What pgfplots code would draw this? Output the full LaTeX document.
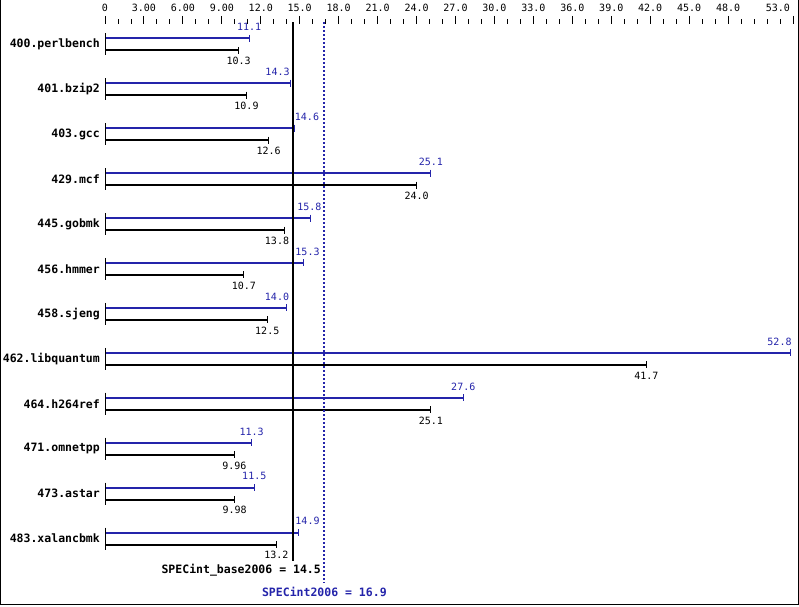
\documentclass[border=0pt]{standalone}
\usepackage{pgfplots}
\usepackage{pgfplotstable}
\pgfplotsset{compat=1.18}
\usepackage{fontspec}
\setmainfont{DejaVu Sans Mono}
\definecolor{specblue}{RGB}{36,36,170}

\pgfplotstableread{
row blue black bluex blackx bluelab blacklab
0 11.1 10.3 11.1 10.3 11.1 10.3
1 14.3 10.9 13.29 10.9 14.3 10.9
2 14.6 12.6 15.56 12.6 14.6 12.6
3 25.1 24.0 25.1 24.0 25.1 24.0
4 15.8 13.8 15.75 13.25 15.8 13.8
5 15.3 10.7 15.6 10.7 15.3 10.7
6 14.0 12.5 13.25 12.5 14.0 12.5
7 52.8 41.7 51.96 41.7 52.8 41.7
8 27.6 25.1 27.6 25.1 27.6 25.1
9 11.3 9.96 11.3 9.96 11.3 9.96
10 11.5 9.98 11.5 9.98 11.5 9.98
11 14.9 13.2 15.6 13.2 14.9 13.2
}\spec

\begin{document}
\begin{tikzpicture}[x=1pt,y=1pt]
\useasboundingbox (0,0) rectangle (799,606);
\draw[line width=1pt] (0.5,606) -- (0.5,1.5) -- (798.5,1.5) -- (798.5,606);
\begin{axis}[
  at={(105pt,2pt)}, anchor=south west,
  scale only axis, width=688pt, height=580pt,
  xmin=0, xmax=53, ymin=-12.457, ymax=0.4518,
  clip=false,
  axis line style={draw=none},
  tick align=outside,
  major tick length=8pt, minor tick length=4.5pt,
  xtick={0,3,...,48,53},
  xticklabels={0,3.00,6.00,9.00,12.0,15.0,18.0,21.0,24.0,27.0,30.0,33.0,36.0,39.0,42.0,45.0,48.0,{\makebox[0pt][r]{53.0\hspace{3pt}}}},
  minor xtick={0,...,53},
  xtick pos=right, xticklabel pos=right,
  x tick style={black, line width=0.9pt},
  xticklabel style={font=\fontsize{10}{12}\selectfont, inner sep=1pt, yshift=3.5pt},
  ytick={-11,...,0},
  yticklabels={483.xalancbmk,473.astar,471.omnetpp,464.h264ref,462.libquantum,458.sjeng,456.hmmer,445.gobmk,429.mcf,403.gcc,401.bzip2,400.perlbench},
  ytick pos=left,
  y tick style={draw=none},
  yticklabel style={font=\bfseries\fontsize{11.5}{13}\selectfont, inner sep=0pt, anchor=east, xshift=3pt},
]
% row start markers
\addplot[black, only marks, mark=|, mark size=11pt, mark options={line width=1pt}]
  table[x expr=0, y expr=-\thisrow{row}] {\spec};
% peak (blue) bars
\addplot[xcomb, specblue, line width=2pt, mark=|, mark size=3.5pt, mark options={line width=1pt}]
  table[x=blue, y expr=-\thisrow{row}+0.134] {\spec};
% base (black) bars
\addplot[xcomb, black, line width=2pt, mark=|, mark size=3.5pt, mark options={line width=1pt}]
  table[x=black, y expr=-\thisrow{row}-0.134] {\spec};
% labels
\addplot[draw=none, nodes near coords, point meta=explicit symbolic,
  every node near coord/.append style={anchor=center, text=specblue, inner sep=0pt, font=\fontsize{10}{12}\selectfont}]
  table[x=bluex, y expr=-\thisrow{row}+0.384, meta=bluelab] {\spec};
\addplot[draw=none, nodes near coords, point meta=explicit symbolic,
  every node near coord/.append style={anchor=center, text=black, inner sep=0pt, font=\fontsize{10}{12}\selectfont}]
  table[x=blackx, y expr=-\thisrow{row}-0.372, meta=blacklab] {\spec};
% summary lines
\addplot[black, line width=2pt] coordinates {(14.5,0.496) (14.5,-11.50)};
\addplot[specblue, line width=2pt, dash pattern=on 2pt off 2pt] coordinates {(16.9,0.496) (16.9,-11.98)};
\node[anchor=east, inner sep=0pt, font=\bfseries\fontsize{11.5}{13}\selectfont] at (axis cs:16.64,-11.70) {SPECint\_base2006 = 14.5};
\node[anchor=center, inner sep=0pt, text=specblue, font=\bfseries\fontsize{11.5}{13}\selectfont] at (axis cs:16.9,-12.19) {SPECint2006 = 16.9};
\end{axis}
\end{tikzpicture}
\end{document}
